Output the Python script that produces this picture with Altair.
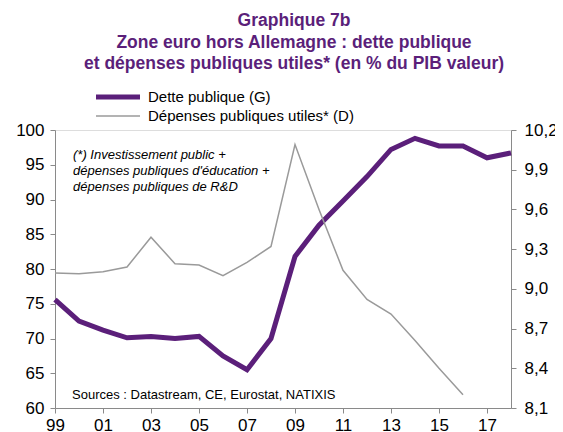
import altair as alt
import pandas as pd

# ---- data ----
years = list(range(1999, 2019))
dette_publique = [75.6, 72.5, 71.2, 70.1, 70.3, 70.0, 70.3, 67.5, 65.5, 70.0,
                  81.8, 86.3, 89.8, 93.3, 97.2, 98.8, 97.7, 97.7, 96.0, 96.7]
dep_years = list(range(1999, 2017))
depenses_utiles = [9.12, 9.115, 9.13, 9.165, 9.39, 9.19, 9.18, 9.10, 9.20, 9.32,
                   10.09, 9.60, 9.14, 8.92, 8.81, 8.61, 8.40, 8.20]

x_ticks = list(range(1999, 2018, 2))
left_ticks = list(range(60, 101, 5))
right_ticks = [8.1, 8.4, 8.7, 9.0, 9.3, 9.6, 9.9, 10.2]

title_lines = ["Graphique 7b",
               "Zone euro hors Allemagne : dette publique",
               "et dépenses publiques utiles* (en % du PIB valeur)"]
legend_labels = ["Dette publique (G)", "Dépenses publiques utiles* (D)"]
note_lines = ["(*) Investissement  public +",
              "dépenses  publiques  d'éducation  +",
              "dépenses  publiques  de R&D"]
source_text = "Sources  : Datastream,  CE, Eurostat,  NATIXIS"

PURPLE = "#5B1F7A"
GREY = "#9A9A9A"
AXIS_GREY = "#8A8A8A"
FONT = "Liberation Sans"

df_d = pd.DataFrame({"year": years, "dette": dette_publique})
df_g = pd.DataFrame({"year": dep_years, "dep": depenses_utiles})

x_axis = alt.Axis(values=x_ticks, labelExpr="substring(toString(datum.value), 2)",
                  grid=False, tickSize=5, labelPadding=4, labelFontSize=17,
                  labelColor="black", domainColor=AXIS_GREY, tickColor=AXIS_GREY,
                  labelFont=FONT, labelOverlap=False, labelFlush=False)
x_scale = alt.Scale(domain=[1999, 2018], nice=False, zero=False)

debt = alt.Chart(df_d).mark_line(color=PURPLE, strokeWidth=5).encode(
    x=alt.X("year:Q", title=None, scale=x_scale, axis=x_axis),
    y=alt.Y("dette:Q", title=None,
            scale=alt.Scale(domain=[60, 100], nice=False, zero=False),
            axis=alt.Axis(orient="left", values=left_ticks, grid=False, tickSize=5,
                          labelPadding=6, labelFontSize=17, labelColor="black",
                          domainColor=AXIS_GREY, tickColor=AXIS_GREY, labelFont=FONT)),
)

spend = alt.Chart(df_g).mark_line(color=GREY, strokeWidth=1.5).encode(
    x=alt.X("year:Q", title=None, scale=x_scale, axis=x_axis),
    y=alt.Y("dep:Q", title=None,
            scale=alt.Scale(domain=[8.1, 10.2], nice=False, zero=False),
            axis=alt.Axis(orient="right", values=right_ticks, grid=False, tickSize=5,
                          labelPadding=8, labelFontSize=17, labelColor="black",
                          labelExpr="replace(format(datum.value, '.1f'), '.', ',')",
                          domainColor=AXIS_GREY, tickColor=AXIS_GREY, labelFont=FONT)),
)

title = alt.Chart(pd.DataFrame({"t": ["\n".join(title_lines)]})).mark_text(
    lineBreak="\n", lineHeight=21.5, fontSize=17.5, fontWeight="bold", color=PURPLE,
    font=FONT, align="center", baseline="alphabetic"
).encode(text="t:N", x=alt.value(239), y=alt.value(-104))

leg_df = pd.DataFrame({"t": legend_labels})
leg_line1 = alt.Chart(leg_df.iloc[[0]]).mark_rule(color=PURPLE, strokeWidth=5).encode(
    x=alt.value(41), x2=alt.value(85), y=alt.value(-33))
leg_line2 = alt.Chart(leg_df.iloc[[1]]).mark_rule(color=GREY, strokeWidth=1.5).encode(
    x=alt.value(41), x2=alt.value(85), y=alt.value(-14))
leg_text1 = alt.Chart(leg_df.iloc[[0]]).mark_text(
    fontSize=15, font=FONT, align="left", baseline="middle", color="black"
).encode(text="t:N", x=alt.value(93), y=alt.value(-33))
leg_text2 = alt.Chart(leg_df.iloc[[1]]).mark_text(
    fontSize=15, font=FONT, align="left", baseline="middle", color="black"
).encode(text="t:N", x=alt.value(93), y=alt.value(-14))

note = alt.Chart(pd.DataFrame({"t": ["\n".join(note_lines)]})).mark_text(
    lineBreak="\n", lineHeight=16, fontSize=13, fontStyle="italic", font=FONT,
    align="left", baseline="middle", color="black"
).encode(text="t:N", x=alt.value(18), y=alt.value(25))

source = alt.Chart(pd.DataFrame({"t": [source_text]})).mark_text(
    fontSize=13, font=FONT, align="left", baseline="middle", color="black"
).encode(text="t:N", x=alt.value(17), y=alt.value(265))

chart = alt.layer(debt, spend, title, leg_line1, leg_line2, leg_text1, leg_text2, note, source
).resolve_scale(y="independent").properties(
    width=456, height=278,
    padding={"left": 47, "top": 122, "right": 44, "bottom": 24},
    autosize=alt.AutoSizeParams(type="none"),
).configure_view(stroke=None).configure(background="white")

chart.save("out.html", embed_options={"renderer": "svg", "actions": False})
